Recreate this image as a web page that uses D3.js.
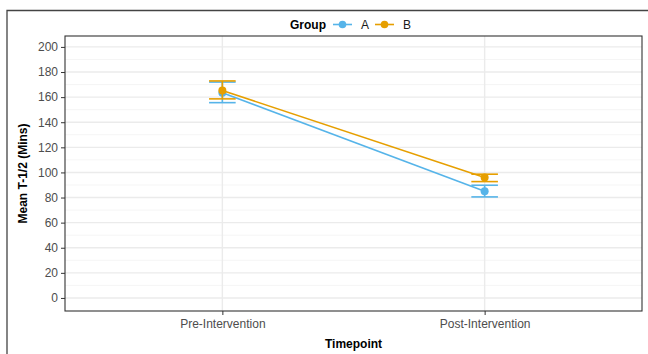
<!DOCTYPE html>
<html>
<head>
<meta charset="utf-8">
<script src="https://cdn.jsdelivr.net/npm/d3@7"></script>
<style>
  body { margin: 0; background: #fff; }
  text { font-family: "Liberation Sans", Arial, sans-serif; }
</style>
</head>
<body>
<div id="chart"></div>
<script>
// data
const timepoints = ["Pre-Intervention", "Post-Intervention"];
const groups = ["A", "B"];
const meanA = [163.5, 85.0];
const lowerA = [155.6, 80.5];
const upperA = [172.0, 89.8];
const meanB = [165.3, 95.9];
const lowerB = [158.6, 92.7];
const upperB = [172.9, 98.6];
const yTicks = [0, 20, 40, 60, 80, 100, 120, 140, 160, 180, 200];
const yMinor = [10, 30, 50, 70, 90, 110, 130, 150, 170, 190];

const colors = { A: "#56B4E9", B: "#E69F00" };

const width = 648, height = 354;
const panel = { left: 65, top: 36, right: 642, bottom: 311 };

const svg = d3.select("#chart").append("svg")
  .attr("width", width)
  .attr("height", height);

// outer frame (only top & left edges visible in the picture)
svg.append("path")
  .attr("d", `M7,${height} L7,10.5 L${width},10.5`)
  .attr("fill", "none")
  .attr("stroke", "#444")
  .attr("stroke-width", 1.3);

const x = d3.scalePoint()
  .domain(timepoints)
  .range([panel.left, panel.right])
  .padding(0.6);

const y = d3.scaleLinear()
  .domain([-10.4, 208.7])
  .range([panel.bottom, panel.top]);

// grid
const grid = svg.append("g");
grid.selectAll("line.minor")
  .data(yMinor)
  .enter().append("line")
  .attr("x1", panel.left).attr("x2", panel.right)
  .attr("y1", d => y(d)).attr("y2", d => y(d))
  .attr("stroke", "#f2f2f2")
  .attr("stroke-width", 0.8);
grid.selectAll("line.major")
  .data(yTicks)
  .enter().append("line")
  .attr("x1", panel.left).attr("x2", panel.right)
  .attr("y1", d => y(d)).attr("y2", d => y(d))
  .attr("stroke", "#ebebeb")
  .attr("stroke-width", 1.4);
grid.selectAll("line.vert")
  .data(timepoints)
  .enter().append("line")
  .attr("x1", d => x(d)).attr("x2", d => x(d))
  .attr("y1", panel.top).attr("y2", panel.bottom)
  .attr("stroke", "#ebebeb")
  .attr("stroke-width", 1.4);

// series
const series = [
  { name: "A", mean: meanA, lo: lowerA, hi: upperA },
  { name: "B", mean: meanB, lo: lowerB, hi: upperB }
];

const capW = 13.3;
series.forEach(s => {
  const g = svg.append("g");
  const col = colors[s.name];
  const pts = timepoints.map((t, i) => ({ t, m: s.mean[i], lo: s.lo[i], hi: s.hi[i] }));

  g.append("path")
    .datum(pts)
    .attr("fill", "none")
    .attr("stroke", col)
    .attr("stroke-width", 1.6)
    .attr("d", d3.line().x(d => x(d.t)).y(d => y(d.m)));

  pts.forEach(p => {
    g.append("line")
      .attr("x1", x(p.t)).attr("x2", x(p.t))
      .attr("y1", y(p.lo)).attr("y2", y(p.hi))
      .attr("stroke", col).attr("stroke-width", 1.6);
    [p.lo, p.hi].forEach(v => {
      g.append("line")
        .attr("x1", x(p.t) - capW).attr("x2", x(p.t) + capW)
        .attr("y1", y(v)).attr("y2", y(v))
        .attr("stroke", col).attr("stroke-width", 1.6);
    });
    g.append("circle")
      .attr("cx", x(p.t)).attr("cy", y(p.m))
      .attr("r", 4)
      .attr("fill", col);
  });
});

// panel border
svg.append("rect")
  .attr("x", panel.left).attr("y", panel.top)
  .attr("width", panel.right - panel.left)
  .attr("height", panel.bottom - panel.top)
  .attr("fill", "none")
  .attr("stroke", "#333")
  .attr("stroke-width", 1.1);

// axes
const yAxis = svg.append("g")
  .attr("transform", `translate(${panel.left},0)`)
  .call(d3.axisLeft(y).tickValues(yTicks).tickSize(4).tickPadding(3));
yAxis.select(".domain").remove();
yAxis.selectAll(".tick line").attr("stroke", "#333");
yAxis.selectAll("text").attr("fill", "#4d4d4d").style("font-size", "12px");

const xAxis = svg.append("g")
  .attr("transform", `translate(0,${panel.bottom})`)
  .call(d3.axisBottom(x).tickSize(4).tickPadding(4));
xAxis.select(".domain").remove();
xAxis.selectAll(".tick line").attr("stroke", "#333");
xAxis.selectAll("text").attr("fill", "#4d4d4d").style("font-size", "12px");

// axis titles
svg.append("text")
  .attr("x", (panel.left + panel.right) / 2)
  .attr("y", 348)
  .attr("text-anchor", "middle")
  .style("font-size", "12px")
  .style("font-weight", "bold")
  .text("Timepoint");

svg.append("text")
  .attr("transform", `translate(27,${(panel.top + panel.bottom) / 2}) rotate(-90)`)
  .attr("text-anchor", "middle")
  .style("font-size", "12px")
  .style("font-weight", "bold")
  .text("Mean T-1/2 (Mins)");

// legend
const legend = svg.append("g").attr("transform", "translate(290,24.5)");
legend.append("text")
  .attr("x", 0).attr("y", 4.5)
  .style("font-size", "12px")
  .style("font-weight", "bold")
  .text("Group");
const keyX = [43, 85];
groups.forEach((gname, i) => {
  const kx = keyX[i];
  legend.append("line")
    .attr("x1", kx).attr("x2", kx + 19)
    .attr("y1", 0).attr("y2", 0)
    .attr("stroke", colors[gname]).attr("stroke-width", 1.6);
  legend.append("circle")
    .attr("cx", kx + 9.5).attr("cy", 0).attr("r", 3.8)
    .attr("fill", colors[gname]);
  legend.append("text")
    .attr("x", kx + 28).attr("y", 4.5)
    .style("font-size", "12px")
    .attr("fill", "#1a1a1a")
    .text(gname);
});
</script>
</body>
</html>
